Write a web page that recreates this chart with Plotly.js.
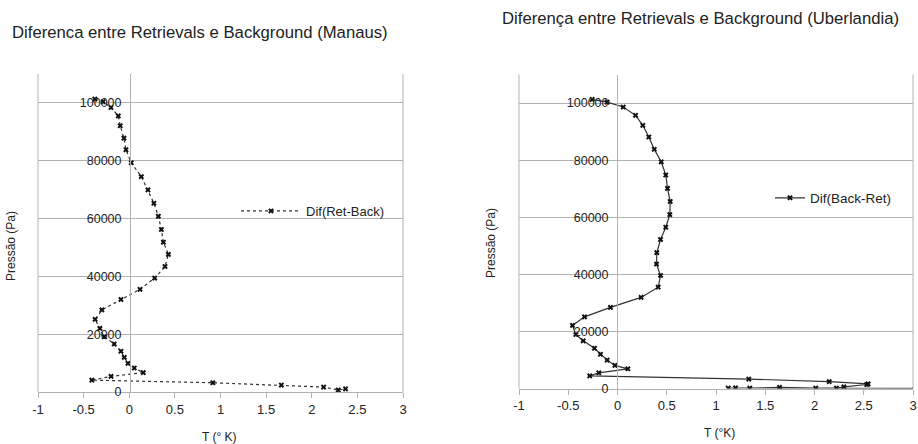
<!DOCTYPE html>
<html>
<head>
<meta charset="utf-8">
<script src="https://cdn.plot.ly/plotly-3.0.1.min.js"></script>
<style>html,body{margin:0;padding:0;background:#fff;}#chart{width:918px;height:444px;}</style>
</head>
<body>
<div id="chart"></div>
<script>
// Manaus: Dif(Ret-Back)
const manausT = [-0.377,-0.286,-0.20,-0.12,-0.099,-0.058,-0.036,0.022,0.132,0.205,0.27,0.319,0.352,0.374,0.429,0.392,0.278,0.118,-0.091,-0.30,-0.374,-0.322,-0.275,-0.165,-0.091,-0.055,-0.014,0.055,0.154,-0.20,-0.41,0.916,1.667,2.13,2.29,2.37];
const manausP = [101300,100400,98400,95500,92100,87800,83800,79300,74500,69900,65300,60800,56200,51800,47600,43400,39400,35500,32000,28400,25100,22000,19100,16600,14100,12000,9900,8300,6700,5400,4100,3200,2400,1700,700,1100];
// Uberlandia: Dif(Back-Ret)
const uberT = [-0.257,-0.105,0.058,0.183,0.257,0.318,0.373,0.444,0.49,0.508,0.535,0.531,0.49,0.437,0.399,0.396,0.437,0.413,0.24,-0.071,-0.335,-0.457,-0.423,-0.348,-0.234,-0.173,-0.105,-0.027,0.105,-0.19,-0.282,1.333,2.149,2.545,2.53,2.298,2.223,2.013,1.645,1.343,1.198,1.124,3.4];
const uberP = [101300,100300,98600,95700,92200,88100,83800,79400,74800,70100,65500,60900,56500,52200,47600,43600,39600,35500,31900,28400,25100,22100,18900,16700,14100,12000,9950,8100,6900,5500,4400,3300,2400,1600,1400,600,150,150,400,150,250,150,0];

const xTickVals = [-1,-0.5,0,0.5,1,1.5,2,2.5,3];
const xTickText = ["-1","-0.5","0","0.5","1","1.5","2","2.5","3"];
const yTickVals = [0,20000,40000,60000,80000,100000];
const yTickText = ["0","20000","40000","60000","80000","100000"];

const FONT = "Liberation Sans, Arial, sans-serif";
const GRID = "#b3b3b3";
const TXT = "#222222";

const traces = [
  {x: manausT, y: manausP, xaxis: "x", yaxis: "y", name: "Dif(Ret-Back)", mode: "lines+markers", showlegend: true,
   line: {color: "#333333", width: 1.2, dash: "dot"}, marker: {symbol: "x", size: 5, color: "#111111"}, legend: "legend"},
  {x: uberT, y: uberP, xaxis: "x2", yaxis: "y2", name: "Dif(Back-Ret)", mode: "lines+markers", showlegend: true,
   line: {color: "#333333", width: 1.2}, marker: {symbol: "x", size: 5, color: "#111111"}, legend: "legend2"}
];

function xax(domain, anchor) {
  return {domain: domain, range: [-1, 3], anchor: anchor, tickvals: xTickVals, ticktext: xTickText,
    ticks: "outside", ticklen: 5, tickcolor: GRID, showline: true, linecolor: GRID, linewidth: 1,
    showgrid: false, zeroline: false,
    tickfont: {family: FONT, size: 13, color: TXT}, fixedrange: true};
}
function yax(domain, pos) {
  return {domain: domain, range: [0, 110000], anchor: "free", position: pos, side: "left",
    tickvals: yTickVals, ticktext: yTickText,
    showgrid: true, gridcolor: GRID, gridwidth: 1, zeroline: false, showline: true,
    linecolor: GRID, linewidth: 1, ticks: "", ticklabelstandoff: 6,
    tickfont: {family: FONT, size: 12.5, color: TXT}, fixedrange: true};
}
function border(xr, yr, side) {
  return {type: "line", xref: xr + " domain", yref: yr + " domain", x0: side, x1: side, y0: 0, y1: 1,
    line: {color: GRID, width: 1}, layer: "below"};
}

const layout = {
  width: 918, height: 444, margin: {l: 0, r: 0, t: 0, b: 0}, showlegend: true,
  paper_bgcolor: "#ffffff", plot_bgcolor: "rgba(0,0,0,0)",
  xaxis: xax([38/918, 403/918], "y"),
  yaxis: yax([(444-392)/444, (444-74)/444], 130/918),
  xaxis2: xax([519/918, 913/918], "y2"),
  yaxis2: yax([(444-388.5)/444, (444-74.5)/444], 617/918),
  shapes: [border("x", "y", 0), border("x", "y", 1), border("x2", "y2", 0), border("x2", "y2", 1)],
  legend: {x: 236/918, y: (444-211)/444, xanchor: "left", yanchor: "middle", bgcolor: "rgba(0,0,0,0)",
    itemwidth: 60, font: {family: FONT, size: 13, color: TXT}},
  legend2: {x: 770/918, y: (444-198)/444, xanchor: "left", yanchor: "middle", bgcolor: "rgba(0,0,0,0)",
    font: {family: FONT, size: 13.5, color: TXT}},
  annotations: [
    {text: "Diferenca entre Retrievals e Background (Manaus)", xref: "paper", yref: "paper", x: 10/918, y: (444-32)/444,
     xanchor: "left", yanchor: "middle", showarrow: false, font: {family: FONT, size: 16.7, color: TXT}},
    {text: "Diferença entre Retrievals e Background (Uberlandia)", xref: "paper", yref: "paper", x: 500/918, y: (444-18)/444,
     xanchor: "left", yanchor: "middle", showarrow: false, font: {family: FONT, size: 16.7, color: TXT}},
    {text: "T (° K)", xref: "paper", yref: "paper", x: 200/918, y: (444-437)/444,
     xanchor: "left", yanchor: "middle", showarrow: false, font: {family: FONT, size: 12, color: TXT}},
    {text: "T (°K)", xref: "paper", yref: "paper", x: 702/918, y: (444-433)/444,
     xanchor: "left", yanchor: "middle", showarrow: false, font: {family: FONT, size: 12, color: TXT}},
    {text: "Pressão (Pa)", xref: "paper", yref: "paper", x: 11/918, y: (444-246)/444, textangle: -90,
     xanchor: "center", yanchor: "middle", showarrow: false, font: {family: FONT, size: 12, color: TXT}},
    {text: "Pressão (Pa)", xref: "paper", yref: "paper", x: 491/918, y: (444-243)/444, textangle: -90,
     xanchor: "center", yanchor: "middle", showarrow: false, font: {family: FONT, size: 12, color: TXT}}
  ]
};

Plotly.newPlot("chart", traces, layout, {displayModeBar: false, staticPlot: true});
</script>
</body>
</html>
